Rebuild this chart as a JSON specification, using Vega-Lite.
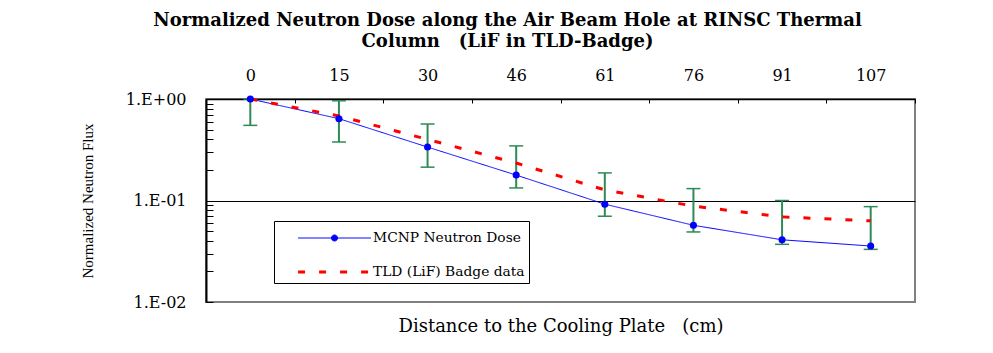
{
  "$schema": "https://vega.github.io/schema/vega-lite/v6.json",
  "width": 709,
  "height": 203,
  "autosize": {"type": "none"},
  "padding": {"left": 206, "top": 99, "right": 78, "bottom": 51},
  "background": "white",
  "title": {
    "text": ["Normalized Neutron Dose along the Air Beam Hole at RINSC Thermal", "Column \u00a0 (LiF in TLD-Badge)"],
    "font": "DejaVu Serif",
    "fontSize": 18,
    "fontWeight": "bold",
    "lineHeight": 21,
    "anchor": "middle",
    "frame": "group",
    "dx": -53,
    "offset": 16,
    "color": "black"
  },
  "datasets": {
    "lines": [
      {"d": 0, "series": "MCNP Neutron Dose", "v": 1.0},
      {"d": 15, "series": "MCNP Neutron Dose", "v": 0.64},
      {"d": 30, "series": "MCNP Neutron Dose", "v": 0.336},
      {"d": 46, "series": "MCNP Neutron Dose", "v": 0.178},
      {"d": 61, "series": "MCNP Neutron Dose", "v": 0.092},
      {"d": 76, "series": "MCNP Neutron Dose", "v": 0.057},
      {"d": 91, "series": "MCNP Neutron Dose", "v": 0.041},
      {"d": 107, "series": "MCNP Neutron Dose", "v": 0.0356},
      {"d": 0, "series": "TLD (LiF) Badge data", "v": 1.0},
      {"d": 15, "series": "TLD (LiF) Badge data", "v": 0.68},
      {"d": 30, "series": "TLD (LiF) Badge data", "v": 0.40},
      {"d": 46, "series": "TLD (LiF) Badge data", "v": 0.234},
      {"d": 61, "series": "TLD (LiF) Badge data", "v": 0.127},
      {"d": 76, "series": "TLD (LiF) Badge data", "v": 0.088},
      {"d": 91, "series": "TLD (LiF) Badge data", "v": 0.069},
      {"d": 107, "series": "TLD (LiF) Badge data", "v": 0.063}
    ],
    "errors": [
      {"d": 0, "lo": 0.55, "hi": 1.0},
      {"d": 15, "lo": 0.377, "hi": 0.96},
      {"d": 30, "lo": 0.213, "hi": 0.567},
      {"d": 46, "lo": 0.133, "hi": 0.345},
      {"d": 61, "lo": 0.070, "hi": 0.187},
      {"d": 76, "lo": 0.049, "hi": 0.131},
      {"d": 91, "lo": 0.037, "hi": 0.100},
      {"d": 107, "lo": 0.033, "hi": 0.087}
    ]
  },
  "encoding": {
    "x": {
      "field": "d",
      "type": "ordinal",
      "scale": {"type": "band", "paddingInner": 0, "paddingOuter": 0},
      "axis": {
        "orient": "top",
        "title": "Distance to the Cooling Plate \u00a0 (cm)",
        "titleFont": "DejaVu Serif",
        "titleFontSize": 18,
        "titleFontWeight": "normal",
        "titleColor": "black",
        "titleY": 227,
        "titleBaseline": "middle",
        "labelAngle": 0,
        "labelFont": "DejaVu Serif",
        "labelFontSize": 16,
        "labelColor": "black",
        "labelPadding": 20,
        "tickBand": "extent",
        "tickSize": -4,
        "tickColor": "black",
        "domainColor": "black",
        "domainWidth": 1.5,
        "grid": false
      }
    }
  },
  "layer": [
    {
      "data": {"name": "errors"},
      "mark": {"type": "rule", "color": "#2e8b57", "strokeWidth": 2},
      "encoding": {
        "y": {
          "field": "lo",
          "type": "quantitative",
          "scale": {"type": "log", "domain": [0.01, 1], "nice": false},
          "axis": {
            "title": "Normalized Neutron Flux",
            "titleFont": "Liberation Serif",
            "titleFontSize": 15,
            "titleFontWeight": "normal",
            "titleColor": "black",
            "titlePadding": 30,
            "values": [0.01, 0.02, 0.03, 0.04, 0.05, 0.06, 0.07, 0.08, 0.09, 0.1, 0.2, 0.3, 0.4, 0.5, 0.6, 0.7, 0.8, 0.9, 1],
            "labelExpr": "abs(datum.value-1)<1e-6 ? '1.E+00' : (abs(datum.value-0.1)<1e-7 ? '1.E-01' : (abs(datum.value-0.01)<1e-8 ? '1.E-02' : ''))",
            "labelFont": "DejaVu Serif",
            "labelFontSize": 16,
            "labelColor": "black",
            "labelPadding": 27,
            "labelOverlap": false,
            "labelBound": false,
            "tickSize": -7,
            "tickColor": "black",
            "domainColor": "black",
            "domainWidth": 2,
            "grid": true,
            "gridColor": "black",
            "gridWidth": 1,
            "gridOpacity": {"condition": {"test": "abs(datum.value-0.1)<1e-7", "value": 1}, "value": 0}
          }
        },
        "y2": {"field": "hi"}
      }
    },
    {
      "data": {"name": "errors"},
      "mark": {"type": "tick", "color": "#2e8b57", "size": 14, "thickness": 1.5, "opacity": 1},
      "encoding": {"y": {"field": "lo", "type": "quantitative"}}
    },
    {
      "data": {"name": "errors"},
      "mark": {"type": "tick", "color": "#2e8b57", "size": 14, "thickness": 1.5, "opacity": 1},
      "encoding": {"y": {"field": "hi", "type": "quantitative"}}
    },
    {
      "data": {"name": "lines"},
      "mark": {"type": "line"},
      "encoding": {
        "y": {"field": "v", "type": "quantitative"},
        "color": {
          "field": "series",
          "type": "nominal",
          "scale": {"domain": ["MCNP Neutron Dose", "TLD (LiF) Badge data"], "range": ["#0000ff", "#ff0000"]},
          "legend": {
            "title": null,
            "orient": "none",
            "legendX": 68,
            "legendY": 122,
            "symbolType": "M0.5,0H6.5",
            "symbolSize": 590,
            "labelFont": "DejaVu Serif",
            "labelFontSize": 13.8,
            "labelColor": "black",
            "labelOffset": 67,
            "labelLimit": 300,
            "rowPadding": 13,
            "padding": 4,
            "strokeColor": "black",
            "fillColor": "white",
            "encode": {
              "symbols": {
                "update": {
                  "shape": {"signal": "datum.value === 'MCNP Neutron Dose' ? 'M0.5,0H6.5M3.75,0A0.25,0.25 0 1,1 3.25,0A0.25,0.25 0 1,1 3.75,0Z' : 'M0.5,0H6.5'"},
                  "fill": {"signal": "datum.value === 'MCNP Neutron Dose' ? '#0000ff' : 'transparent'"}
                }
              }
            }
          }
        },
        "strokeDash": {
          "field": "series",
          "type": "nominal",
          "scale": {"domain": ["MCNP Neutron Dose", "TLD (LiF) Badge data"], "range": [[1, 0], [7, 14]]}
        },
        "strokeWidth": {
          "field": "series",
          "type": "nominal",
          "scale": {"domain": ["MCNP Neutron Dose", "TLD (LiF) Badge data"], "range": [1, 3]}
        }
      }
    },
    {
      "data": {"name": "lines"},
      "transform": [{"filter": "datum.series == 'MCNP Neutron Dose'"}],
      "mark": {"type": "point", "filled": true, "color": "#0000ff", "size": 50, "opacity": 1},
      "encoding": {"y": {"field": "v", "type": "quantitative"}}
    }
  ],
  "config": {
    "view": {"stroke": "#808080", "strokeWidth": 2}
  }
}
